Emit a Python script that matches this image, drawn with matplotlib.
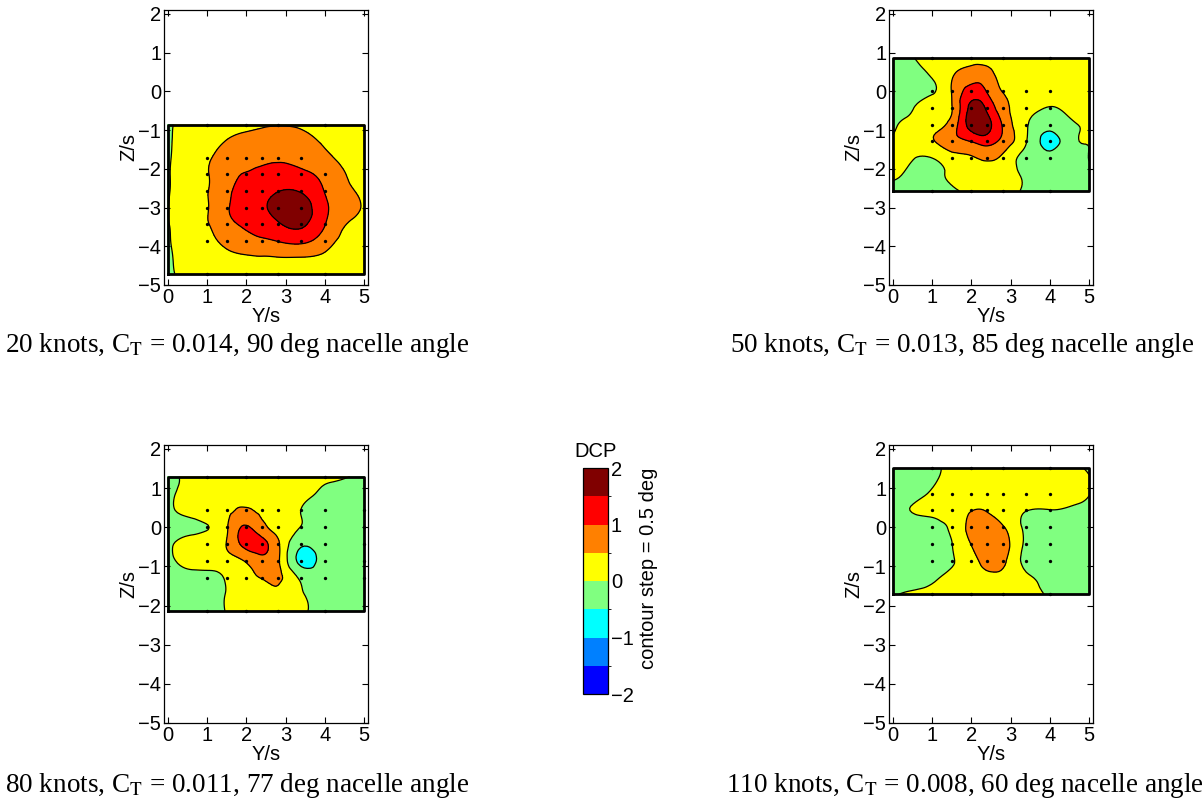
import numpy as np
import matplotlib.pyplot as plt
import matplotlib.tri as mtri
from matplotlib.colors import ListedColormap, BoundaryNorm

plt.rcParams['font.family'] = ['Liberation Sans', 'DejaVu Sans']
plt.rcParams['mathtext.fontset'] = 'stix'
plt.rcParams['axes.linewidth'] = 0.9
plt.rcParams['contour.negative_linestyle'] = 'solid'

# survey grid columns (Y/s), same for all four cases
y_grid = [0, 0.5, 1, 1.5, 2, 2.4, 2.8, 3.4, 4, 4.5, 5]
probe_y = [1, 1.5, 2, 2.4, 2.8, 3.4, 4]
edge_y = [1, 2, 2.8, 4]

# 20 knots
z_20 = [-0.86, -1.29, -1.71, -2.14, -2.57, -3.0, -3.43, -3.86, -4.29, -4.71]
dcp_20 = [
    [-0.10, 0.20, 0.25, 0.30, 0.38, 0.45, 0.48, 0.44, 0.35, 0.30, 0.25],
    [-0.10, 0.25, 0.35, 0.52, 0.65, 0.70, 0.75, 0.65, 0.45, 0.35, 0.28],
    [-0.08, 0.30, 0.45, 0.70, 0.85, 0.90, 0.95, 0.85, 0.60, 0.40, 0.30],
    [-0.06, 0.30, 0.47, 0.85, 1.02, 1.10, 1.15, 1.10, 0.85, 0.52, 0.35],
    [-0.05, 0.30, 0.48, 0.90, 1.15, 1.30, 1.48, 1.45, 0.98, 0.62, 0.40],
    [-0.01, 0.30, 0.47, 0.95, 1.20, 1.42, 1.65, 1.75, 1.10, 0.72, 0.45],
    [-0.03, 0.30, 0.47, 0.85, 1.08, 1.25, 1.45, 1.58, 1.02, 0.53, 0.35],
    [-0.06, 0.28, 0.40, 0.62, 0.82, 0.92, 1.02, 1.12, 0.72, 0.40, 0.30],
    [-0.12, 0.25, 0.33, 0.40, 0.45, 0.47, 0.49, 0.49, 0.42, 0.33, 0.25],
    [-0.15, 0.20, 0.25, 0.28, 0.30, 0.32, 0.33, 0.33, 0.30, 0.27, 0.22],
]
probe_z_20 = [-1.71, -2.14, -2.57, -3.0, -3.43, -3.86]
skip_20 = [(4, -1.71), (4, -3.0)]

# 50 knots
z_50 = [0.86, 0.43, 0.0, -0.43, -0.86, -1.29, -1.71, -2.14, -2.57]
dcp_50 = [
    [-0.20, -0.02, 0.15, 0.25, 0.30, 0.30, 0.25, 0.20, 0.20, 0.20, 0.20],
    [-0.25, -0.15, 0.05, 0.45, 0.75, 0.70, 0.30, 0.25, 0.20, 0.20, 0.20],
    [-0.30, -0.20, -0.05, 0.52, 1.20, 0.97, 0.48, 0.30, 0.20, 0.20, 0.20],
    [-0.20, -0.03, 0.25, 0.48, 1.65, 1.40, 0.70, 0.20, -0.02, 0.10, 0.20],
    [-0.06, 0.15, 0.35, 0.70, 1.75, 1.70, 0.95, 0.05, -0.30, -0.10, 0.10],
    [0.05, 0.20, 0.45, 0.80, 1.02, 1.20, 0.85, 0.02, -0.65, -0.20, 0.02],
    [0.20, 0.03, 0.01, 0.30, 0.45, 0.60, 0.40, -0.20, -0.35, -0.20, 0.01],
    [0.08, -0.05, -0.05, 0.05, 0.25, 0.30, 0.20, -0.10, -0.30, -0.20, -0.10],
    [-0.15, -0.15, -0.10, -0.05, 0.10, 0.15, 0.10, -0.05, -0.20, -0.15, -0.10],
]
probe_z_50 = [0.0, -0.43, -0.86, -1.29, -1.71]
skip_50 = [(1, -1.71)]

# 80 knots
z_80 = [1.29, 0.86, 0.43, 0.0, -0.43, -0.86, -1.29, -1.71, -2.14]
dcp_80 = [
    [-0.20, 0.10, 0.20, 0.25, 0.25, 0.25, 0.20, 0.15, 0.10, 0.02, -0.05],
    [-0.20, 0.20, 0.25, 0.30, 0.35, 0.35, 0.25, 0.15, -0.10, -0.15, -0.15],
    [-0.20, 0.20, 0.30, 0.40, 0.55, 0.40, 0.30, -0.01, -0.20, -0.20, -0.20],
    [-0.30, -0.20, -0.02, 0.45, 1.05, 0.65, 0.35, -0.02, -0.20, -0.20, -0.20],
    [-0.20, 0.30, 0.30, 0.52, 1.20, 1.15, 0.60, -0.42, -0.20, -0.20, -0.20],
    [-0.20, 0.20, 0.20, 0.30, 0.55, 0.85, 0.60, -0.65, -0.25, -0.20, -0.20],
    [-0.20, -0.15, -0.10, 0.05, 0.40, 0.52, 0.60, -0.10, -0.15, -0.20, -0.20],
    [-0.20, -0.20, -0.15, 0.02, 0.25, 0.35, 0.40, 0.05, -0.15, -0.20, -0.20],
    [-0.20, -0.20, -0.15, 0.02, 0.20, 0.25, 0.25, 0.08, -0.15, -0.20, -0.20],
]
probe_z_80 = [0.43, 0.0, -0.43, -0.86, -1.29]
skip_80 = []

# 110 knots
z_110 = [1.5, 0.86, 0.43, 0.0, -0.43, -0.86, -1.29, -1.71]
dcp_110 = [
    [-0.30, -0.25, -0.10, 0.10, 0.20, 0.20, 0.20, 0.20, 0.20, 0.12, -0.05],
    [-0.25, -0.15, 0.05, 0.20, 0.30, 0.35, 0.30, 0.25, 0.20, 0.15, 0.01],
    [-0.15, 0.02, 0.10, 0.25, 0.49, 0.48, 0.30, 0.01, -0.01, -0.05, -0.10],
    [-0.30, -0.25, -0.15, 0.10, 0.65, 0.75, 0.55, -0.10, -0.20, -0.20, -0.20],
    [-0.30, -0.30, -0.20, -0.01, 0.52, 0.85, 0.75, -0.10, -0.25, -0.25, -0.20],
    [-0.30, -0.30, -0.20, -0.03, 0.30, 0.70, 0.62, -0.15, -0.25, -0.25, -0.20],
    [-0.30, -0.25, -0.08, 0.10, 0.25, 0.38, 0.35, 0.08, -0.15, -0.25, -0.20],
    [-0.05, 0.10, 0.15, 0.20, 0.25, 0.25, 0.20, 0.08, -0.03, -0.15, -0.20],
]
probe_z_110 = [0.86, 0.43, 0.0, -0.43, -0.86]
skip_110 = []

titles = [
    r'20 knots, C$_\mathrm{T}$ = 0.014, 90 deg nacelle angle',
    r'50 knots, C$_\mathrm{T}$ = 0.013, 85 deg nacelle angle',
    r'80 knots, C$_\mathrm{T}$ = 0.011, 77 deg nacelle angle',
    r'110 knots, C$_\mathrm{T}$ = 0.008, 60 deg nacelle angle',
]

levels = np.arange(-2, 2.01, 0.5)
jet8 = ['#0000ff', '#0080ff', '#00ffff', '#80ff80',
        '#ffff00', '#ff8000', '#ff0000', '#800000']
cmap = ListedColormap(jet8)
norm = BoundaryNorm(levels, cmap.N)

W, H = 1204, 809
fig = plt.figure(figsize=(W / 100, H / 100), dpi=100)


def px_axes(left, top, right, bottom):
    return fig.add_axes([left / W, 1 - bottom / H, (right - left) / W, (bottom - top) / H])


panels = [
    (px_axes(164, 10, 368, 285), z_20, dcp_20, probe_z_20, skip_20, probe_y),
    (px_axes(889, 10, 1093, 285), z_50, dcp_50, probe_z_50, skip_50, probe_y),
    (px_axes(164, 445, 368, 723), z_80, dcp_80, probe_z_80, skip_80, probe_y + [5]),
    (px_axes(889, 445, 1093, 723), z_110, dcp_110, probe_z_110, skip_110, probe_y),
]

for ax, zg, dcp, pz, skip, py in panels:
    Yg, Zg = np.meshgrid(y_grid, zg)
    D = np.array(dcp)
    # smooth the coarse survey grid a little, like the original gridded plot
    tri = mtri.Triangulation(Yg.ravel(), Zg.ravel())
    tri_f, d_f = mtri.UniformTriRefiner(tri).refine_field(D.ravel(), subdiv=3)
    cf = ax.tricontourf(tri_f, d_f, levels=levels, cmap=cmap, norm=norm)
    ax.tricontour(tri_f, d_f, levels=levels, colors='k', linewidths=0.9)

    # border of the surveyed region
    y0, y1, z0, z1 = min(y_grid), max(y_grid), min(zg), max(zg)
    ax.plot([y0, y1, y1, y0, y0], [z0, z0, z1, z1, z0], color='k', lw=2)

    # probe positions
    pts = [(y, z) for z in pz for y in py if (y, z) not in skip]
    pts += [(y, z) for z in (z0, z1) for y in edge_y]
    ax.plot([p[0] for p in pts], [p[1] for p in pts], 'o', color='k', ms=2.4, mew=0)

    ax.set_xlim(-0.1, 5.1)
    ax.set_ylim(-5, 2.1)
    ax.set_xticks(range(0, 6))
    ax.set_yticks(range(-5, 3))
    ax.tick_params(direction='in', top=True, right=True, length=4, labelsize=14.5, pad=2)
    ax.set_xlabel('Y/s', fontsize=14.5, labelpad=0.5)
    ax.set_ylabel('Z/s', fontsize=14.5, labelpad=0)

title_pos = [(237, 346), (962, 346), (237, 785), (965, 785)]
for (tx, ty), t in zip(title_pos, titles):
    fig.text(tx / W, 1 - ty / H, t, ha='center', va='center', fontsize=19.5,
             family=['Liberation Serif', 'DejaVu Serif'])

cax = px_axes(583, 468, 608, 694)
cb = fig.colorbar(cf, cax=cax, ticks=[-2, -1, 0, 1, 2])
cb.outline.set_linewidth(0.9)
cax.tick_params(length=0, labelsize=14.5, pad=2)
fig.text(596 / W, 1 - 452 / H, 'DCP', ha='center', va='center', fontsize=14.5)
fig.text(648 / W, 1 - 568 / H, 'contour step = 0.5 deg', ha='center', va='center',
         rotation=90, fontsize=14.5)

fig.savefig('out.png', dpi=100)
